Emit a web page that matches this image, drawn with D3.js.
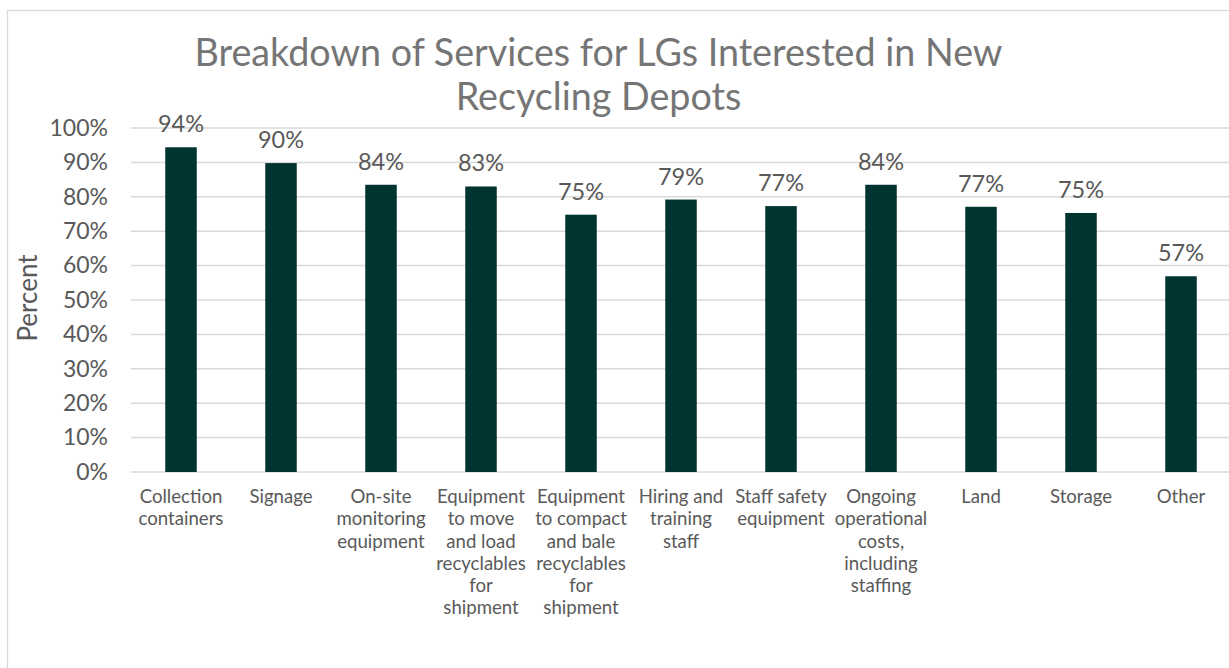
<!DOCTYPE html>
<html><head><meta charset="utf-8">
<script src="https://cdn.jsdelivr.net/npm/d3@7"></script>
<style>body{margin:0;background:#fff;}svg{display:block;font-family:Lato, 'Open Sans', sans-serif;}</style>
</head><body>
<svg id="c" width="1229" height="668"></svg>
<script>
const titleLines = ["Breakdown of Services for LGs Interested in New", "Recycling Depots"];
const yAxisTitle = "Percent";
const categories = ["Collection containers", "Signage", "On-site monitoring equipment",
  "Equipment to move and load recyclables for shipment",
  "Equipment to compact and bale recyclables for shipment",
  "Hiring and training staff", "Staff safety equipment",
  "Ongoing operational costs, including staffing", "Land", "Storage", "Other"];
const values = [0.944, 0.898, 0.835, 0.830, 0.748, 0.792, 0.773, 0.835, 0.771, 0.753, 0.569];
const yTicks = [0, 0.1, 0.2, 0.3, 0.4, 0.5, 0.6, 0.7, 0.8, 0.9, 1.0];

const svg = d3.select("#c");
const W = 1229, H = 668;
const m = {left: 131, right: -2, top: 128, bottom: 196};
const x = d3.scaleBand().domain(categories).range([m.left, W - m.right]).paddingInner(0.685).paddingOuter(0.3425);
const y = d3.scaleLinear().domain([0, 1]).range([H - m.bottom, m.top]);

// chart border
svg.append("rect").attr("x", 7.5).attr("y", 10.5).attr("width", W + 10).attr("height", H + 10)
  .attr("fill", "none").attr("stroke", "#d9d9d9").attr("stroke-width", 1.3);

// gridlines
svg.append("g").selectAll("line").data(yTicks).join("line")
  .attr("x1", m.left).attr("x2", W).attr("y1", d => y(d)).attr("y2", d => y(d))
  .attr("stroke", "#d9d9d9").attr("stroke-width", 1.5);

// y axis
const yAxis = d3.axisLeft(y).tickValues(yTicks).tickFormat(d3.format(".0%")).tickSize(0).tickPadding(23);
const gy = svg.append("g").attr("transform", `translate(${m.left},0)`).call(yAxis);
gy.select(".domain").remove();
gy.selectAll("text").attr("fill", "#595959").style("font-size", "23px").style("font-family", "Lato");

// bars
svg.append("g").selectAll("rect").data(values).join("rect")
  .attr("x", (d, i) => x(categories[i])).attr("width", x.bandwidth())
  .attr("y", d => y(d)).attr("height", d => y(0) - y(d))
  .attr("fill", "#003430");

// data labels
svg.append("g").selectAll("text").data(values).join("text")
  .attr("x", (d, i) => x(categories[i]) + x.bandwidth() / 2)
  .attr("y", d => y(d) - 15)
  .attr("text-anchor", "middle").attr("fill", "#595959")
  .style("font-size", "23.5px").text(d => d3.format(".0%")(d));

// x axis
const xAxis = d3.axisBottom(x).tickSize(0).tickPadding(18);
const gx = svg.append("g").attr("transform", `translate(0,${y(0)})`).call(xAxis);
gx.select(".domain").remove();
gx.selectAll("text").attr("fill", "#595959").style("font-size", "18.6px").style("font-family", "Lato")
  .each(function(d) { wrap(d3.select(this), 95); });

function wrap(text, width) {
  const words = text.text().split(/\s+/);
  text.text(null);
  const lh = 22.2;
  const yy = +text.attr("y");
  let line = [], lineNo = 0;
  let tspan = text.append("tspan").attr("x", 0).attr("y", yy).attr("dy", "0.71em");
  for (const w of words) {
    line.push(w);
    tspan.text(line.join(" "));
    if (tspan.node().getComputedTextLength() > width && line.length > 1) {
      line.pop();
      tspan.text(line.join(" "));
      line = [w];
      lineNo++;
      tspan = text.append("tspan").attr("x", 0).attr("y", yy + lineNo * lh).attr("dy", "0.71em").text(w);
    }
  }
}

// title
svg.append("g").selectAll("text").data(titleLines).join("text")
  .attr("x", 598.5).attr("y", (d, i) => 66 + i * 44)
  .attr("text-anchor", "middle").attr("fill", "#757575")
  .style("font-size", "37.7px").text(d => d);

// y axis title
svg.append("text").attr("transform", "translate(37,298) rotate(-90)")
  .attr("text-anchor", "middle").attr("fill", "#595959")
  .style("font-size", "26px").text(yAxisTitle);
</script>
</body></html>
